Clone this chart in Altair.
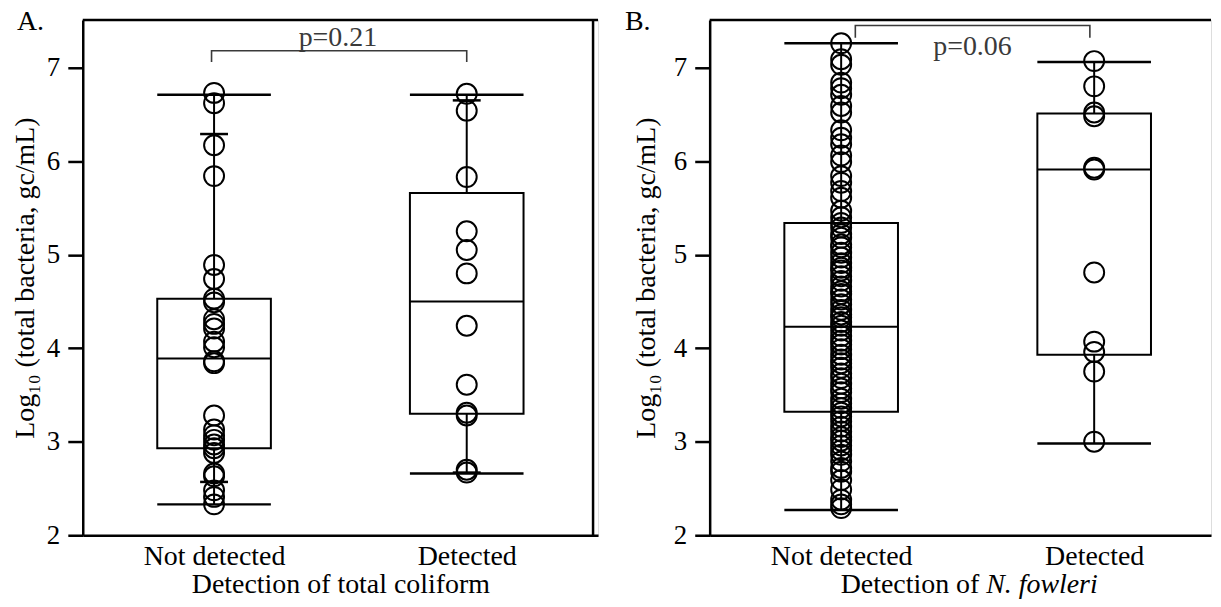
import altair as alt
import pandas as pd

FONT = "Liberation Serif"
INK = "#000000"
GREY = "#3a3a3a"

CATEGORIES = ["Not detected", "Detected"]
Y_TICKS = [2, 3, 4, 5, 6, 7]
Y_DOMAIN = [2, 7.51]
Y_TITLE = "Log\u2081\u2080 (total bacteria, gc/mL)"

# ---------------- Panel A: total coliform ----------------
A_NOT_DETECTED = [6.73, 6.62, 6.17, 5.84, 4.89, 4.74, 4.53, 4.49, 4.31, 4.26, 4.21,
                  4.07, 4.01, 3.86, 3.84, 3.28, 3.13, 3.07, 3.02, 2.97, 2.93, 2.88,
                  2.66, 2.63, 2.48, 2.41, 2.33]
A_DETECTED = [6.72, 6.54, 5.83, 5.25, 5.05, 4.80, 4.24, 3.61, 3.31, 3.28, 2.70, 2.67]
A_Q1 = [2.93, 3.30]
A_MEDIAN = [3.89, 4.50]
A_Q3 = [4.53, 5.66]
A_MIN = [2.33, 2.66]
A_MAX = [6.71, 6.71]
A_P10 = [2.57, 2.67]
A_P90 = [6.29, 6.65]
A_PVALUE = "p=0.21"
A_BRACKET_X = [0.49, 1.50]
A_BRACKET_Y = [7.06, 7.18]
A_PTEXT_POS = [0.99, 7.23]

# ---------------- Panel B: N. fowleri ----------------
B_NOT_DETECTED = [7.26, 7.09, 7.03, 6.84, 6.78, 6.71, 6.59, 6.52, 6.33, 6.25, 6.18,
                  6.06, 5.99, 5.84, 5.77, 5.68, 5.61, 5.47, 5.40, 5.34, 5.29, 5.22,
                  5.18, 5.11, 5.08, 5.02, 4.97, 4.91, 4.86, 4.83, 4.77, 4.72, 4.66,
                  4.61, 4.58, 4.52, 4.47, 4.41, 4.36, 4.33, 4.28, 4.24, 4.19, 4.13,
                  4.08, 4.04, 3.99, 3.93, 3.88, 3.84, 3.79, 3.73, 3.68, 3.62, 3.57,
                  3.53, 3.46, 3.41, 3.36, 3.31, 3.27, 3.22, 3.16, 3.11, 3.05, 3.01,
                  2.96, 2.91, 2.86, 2.79, 2.72, 2.68, 2.59, 2.49, 2.38, 2.33, 2.29]
B_DETECTED = [7.07, 6.80, 6.52, 6.48, 5.93, 5.91, 4.81, 4.07, 3.96, 3.75, 3.00]
B_Q1 = [3.32, 3.93]
B_MEDIAN = [4.23, 5.91]
B_Q3 = [5.34, 6.51]
B_MIN = [2.27, 2.98]
B_MAX = [7.26, 7.06]
B_P10 = []
B_P90 = []
B_PVALUE = "p=0.06"
B_BRACKET_X = [0.556, 1.483]
B_BRACKET_Y = [7.32, 7.45]
B_PTEXT_POS = [1.019, 7.13]

HEIGHT = 517
BOX_PX = 114
SHORT_PX = 28
FS = 28

label_expr = "datum.value < 1 ? '%s' : '%s'" % (CATEGORIES[0], CATEGORIES[1])


def make_y(title_pad):
    def y_enc(field):
        return alt.Y(field, type="quantitative",
                     scale=alt.Scale(domain=Y_DOMAIN, nice=False, zero=False),
                     axis=alt.Axis(values=Y_TICKS, tickSize=15, tickWidth=2.5,
                                   tickColor=INK, domainWidth=2.5, domainColor=INK,
                                   grid=False, labelFont=FONT, labelFontSize=27,
                                   labelColor=INK, labelPadding=8, title=Y_TITLE,
                                   titleFont=FONT, titleFontSize=FS,
                                   titleFontWeight="normal", titleColor=INK,
                                   titlePadding=title_pad))
    return y_enc


def x_enc(field, xmax, xtitle):
    return alt.X(field, type="quantitative",
                 scale=alt.Scale(domain=[0, xmax], nice=False, zero=False),
                 axis=alt.Axis(values=[0.5, 1.5], labelExpr=label_expr, ticks=False,
                               domainWidth=2.5, domainColor=INK, grid=False,
                               labelFont=FONT, labelFontSize=FS, labelColor=INK,
                               labelPadding=7, title=xtitle, titleFont=FONT,
                               titleFontSize=FS, titleFontWeight="normal",
                               titleColor=INK, titlePadding=0))


def panel(letter, letter_dx, ytitle_pad, groups, q1, med, q3, mn, mx, p10, p90, pval,
          br_x, br_y, ptext, width, xmax, xtitle, right_border, italic_parts=None):
    y_enc = make_y(ytitle_pad)
    pts = pd.DataFrame([{"pos": i + 0.5, "v": v}
                        for i, vals in enumerate(groups) for v in vals])
    stats = pd.DataFrame({"pos": [0.5, 1.5], "q1": q1, "med": med, "q3": q3})
    whisk = pd.DataFrame({"pos": [0.5, 1.5, 0.5, 1.5],
                          "lo": mn + q3, "hi": q1 + mx})
    ends = pd.DataFrame({"pos": [0.5, 1.5, 0.5, 1.5], "v": mn + mx})
    bracket = pd.DataFrame({"x": [br_x[0], br_x[0], br_x[1], br_x[1]],
                            "y": [br_y[0], br_y[1], br_y[1], br_y[0]],
                            "o": [0, 1, 2, 3]})
    ptxt = pd.DataFrame({"x": [ptext[0]], "y": [ptext[1]], "t": [pval]})

    X = lambda f: x_enc(f, xmax, xtitle)

    layers = [
        alt.Chart(whisk).mark_rule(color=INK, strokeWidth=2).encode(
            x=X("pos"), y=y_enc("lo"), y2="hi"),
        alt.Chart(stats).mark_bar(size=BOX_PX, fillOpacity=0, stroke=INK,
                                  strokeWidth=2).encode(
            x=X("pos"), y=y_enc("q1"), y2="q3"),
        alt.Chart(stats).mark_tick(orient="horizontal", size=BOX_PX, thickness=2,
                                   color=INK, opacity=1).encode(
            x=X("pos"), y=y_enc("med")),
        alt.Chart(ends).mark_tick(orient="horizontal", size=BOX_PX, thickness=2.5,
                                  color=INK, opacity=1).encode(
            x=X("pos"), y=y_enc("v")),
    ]
    if p10:
        shorts = pd.DataFrame({"pos": [0.5, 1.5] + [0.5, 1.5], "v": p10 + p90})
        layers.append(alt.Chart(shorts).mark_tick(orient="horizontal", size=SHORT_PX,
                                                  thickness=2.5, color=INK,
                                                  opacity=1).encode(
            x=X("pos"), y=y_enc("v")))
    layers += [
        alt.Chart(pts).mark_point(shape="circle", size=400, filled=False, color=INK,
                                  strokeWidth=2, opacity=1).encode(
            x=X("pos"), y=y_enc("v")),
        alt.Chart(bracket).mark_line(color=GREY, strokeWidth=1.6).encode(
            x=X("x"), y=y_enc("y"), order="o:Q"),
        alt.Chart(ptxt).mark_text(font=FONT, fontSize=FS, color=GREY,
                                  baseline="alphabetic", align="center").encode(
            x=X("x"), y=y_enc("y"), text="t:N"),
        alt.Chart(pd.DataFrame({"y": [Y_DOMAIN[1]]})).mark_rule(
            color=INK, strokeWidth=2.5).encode(y=y_enc("y")),
        # panel letter
        alt.Chart(pd.DataFrame({"t": [letter]})).mark_text(
            font=FONT, fontSize=FS, color=INK, align="left", baseline="alphabetic",
            x=letter_dx, y=10.5).encode(text="t:N"),
    ]
    if right_border:
        layers.append(alt.Chart(pd.DataFrame({"x": [xmax]})).mark_rule(
            color=INK, strokeWidth=2.5).encode(x=X("x")))
    if italic_parts:
        (t1, x1), (t2, x2) = italic_parts
        layers.append(alt.Chart(pd.DataFrame({"x": [x1], "t": [t1]})).mark_text(
            font=FONT, fontSize=FS, color=INK, align="right", baseline="alphabetic",
            y=HEIGHT + 57.5).encode(x=X("x"), text="t:N"))
        layers.append(alt.Chart(pd.DataFrame({"x": [x2], "t": [t2]})).mark_text(
            font=FONT, fontSize=FS, color=INK, align="left", baseline="alphabetic",
            fontStyle="italic", y=HEIGHT + 57.5).encode(x=X("x"), text="t:N"))

    return alt.layer(*layers).properties(width=width, height=HEIGHT)


chart_a = panel("A.", -66, 7, [A_NOT_DETECTED, A_DETECTED], A_Q1, A_MEDIAN, A_Q3,
                A_MIN, A_MAX, A_P10, A_P90, A_PVALUE, A_BRACKET_X, A_BRACKET_Y,
                A_PTEXT_POS, 517, 2.0, "Detection of total coliform", True)
chart_b = panel("B.", -85, 13, [B_NOT_DETECTED, B_DETECTED], B_Q1, B_MEDIAN, B_Q3,
                B_MIN, B_MAX, B_P10, B_P90, B_PVALUE, B_BRACKET_X, B_BRACKET_Y,
                B_PTEXT_POS, 503, 503 / 259, None, False,
                italic_parts=[("Detection of", 1.046), ("N. fowleri", 1.073)])

chart = alt.hconcat(chart_a, chart_b, spacing=24).properties(
    padding={"left": 3, "top": -1, "right": 0, "bottom": 0}
).configure_view(stroke=None).configure(background="white")

chart.save("out.html", embed_options={"renderer": "svg", "actions": False})
